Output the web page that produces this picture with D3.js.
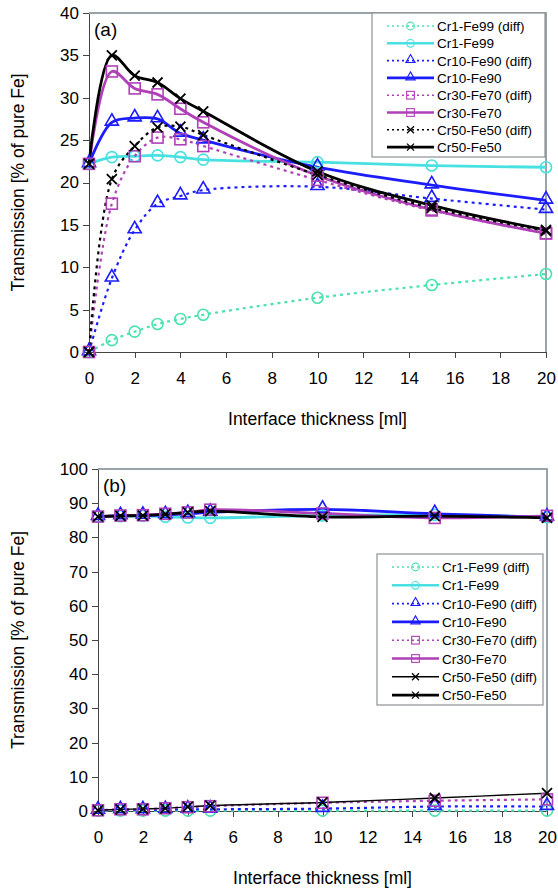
<!DOCTYPE html>
<meta charset="utf-8">
<head>
<style>
body { margin: 0; background: #fff; }
svg { font-family: "Liberation Sans", Arial, sans-serif; }
.axis text { font-size: 17px; fill: #000; }
.axis path, .axis line { stroke: #444; shape-rendering: crispEdges; }
.legend text { font-size: 13.5px; }
</style>
</head>
<body>
<script src="https://d3js.org/d3.v7.min.js"></script>
<script>

// interface thickness [ml]
var xs = [0, 1, 2, 3, 4, 5, 10, 15, 20];

var names = ["Cr1-Fe99 (diff)", "Cr1-Fe99", "Cr10-Fe90 (diff)", "Cr10-Fe90",
             "Cr30-Fe70 (diff)", "Cr30-Fe70", "Cr50-Fe50 (diff)", "Cr50-Fe50"];

// panel (a)
var aCr1diff  = [0, 1.4, 2.4, 3.3, 3.9, 4.4, 6.4, 7.9, 9.2];
var aCr1      = [22.2, 23.0, 23.1, 23.2, 23.0, 22.7, 22.4, 22.0, 21.8];
var aCr10diff = [0, 8.7, 14.4, 17.5, 18.4, 19.1, 19.5, 18.1, 16.8];
var aCr10     = [22.2, 27.1, 27.6, 27.5, 25.8, 25.0, 21.8, 19.7, 17.9];
var aCr30diff = [0, 17.5, 23.1, 25.3, 25.1, 24.3, 20.3, 16.7, 14.0];
var aCr30     = [22.2, 33.1, 31.1, 30.4, 28.7, 27.1, 20.8, 16.8, 14.0];
var aCr50diff = [0, 20.4, 24.3, 26.5, 26.6, 25.6, 20.9, 17.0, 14.3];
var aCr50     = [22.2, 35.0, 32.6, 31.8, 29.9, 28.4, 21.3, 17.3, 14.4];

// panel (b)
var bCr1diff  = [0.1, 0.1, 0.1, 0.1, 0.1, 0.1, 0.1, 0.1, 0.1];
var bCr1      = [86.1, 86.2, 86.3, 86.0, 85.8, 85.7, 86.4, 86.6, 85.9];
var bCr10diff = [0.2, 0.3, 0.3, 0.4, 0.5, 0.5, 0.7, 1.3, 1.3];
var bCr10     = [86.1, 86.3, 86.4, 86.6, 86.9, 87.3, 88.2, 86.9, 85.9];
var bCr30diff = [0.2, 0.5, 0.5, 0.8, 1.1, 1.4, 2.4, 3.0, 3.4];
var bCr30     = [86.1, 86.4, 86.5, 86.9, 87.3, 88.1, 87.0, 85.7, 86.3];
var bCr50diff = [0.2, 0.5, 0.6, 0.8, 1.2, 1.6, 2.5, 3.8, 5.2];
var bCr50     = [86.1, 86.3, 86.4, 86.8, 87.3, 87.7, 86.0, 86.2, 85.7];

var colors  = ["#4ae2ae", "#48e0e0", "#1c1cff", "#1c1cff", "#b040b8", "#b040b8", "#000", "#000"];
var shapes  = ["circle", "circle", "triangle", "triangle", "square", "square", "x", "x"];

var svg = d3.select("body").append("svg")
    .attr("width", 558)
    .attr("height", 890);

function marker(g, shape, cx, cy, color) {
  var p;
  if (shape == "circle") {
    g.append("circle").attr("cx", cx).attr("cy", cy).attr("r", 5.5)
      .attr("fill", "none").attr("stroke", color).attr("stroke-width", 1.6);
  } else if (shape == "triangle") {
    p = d3.symbol().type(d3.symbolTriangle).size(75);
    g.append("path").attr("d", p()).attr("transform", "translate(" + cx + "," + (cy - 1) + ")")
      .attr("fill", "none").attr("stroke", color).attr("stroke-width", 1.6);
  } else if (shape == "square") {
    g.append("rect").attr("x", cx - 5.5).attr("y", cy - 5.5).attr("width", 11).attr("height", 11)
      .attr("fill", "none").attr("stroke", color).attr("stroke-width", 1.6);
  } else {
    g.append("path").attr("d", "M-5,-5L5,5M-5,5L5,-5")
      .attr("transform", "translate(" + cx + "," + cy + ")")
      .attr("fill", "none").attr("stroke", color).attr("stroke-width", 1.8);
  }
}

function panel(opt) {
  var x = d3.scaleLinear().domain([0, 20]).range([opt.left, opt.right]);
  var y = d3.scaleLinear().domain([0, opt.ymax]).range([opt.bottom, opt.top]);

  // frame top / right
  svg.append("path")
    .attr("d", "M" + opt.left + "," + opt.top + "H" + opt.right + "V" + opt.bottom)
    .attr("fill", "none").attr("stroke", "#9aa4a8").attr("stroke-width", 2);

  svg.append("g").attr("class", "axis")
    .attr("transform", "translate(0," + opt.bottom + ")")
    .call(d3.axisBottom(x).tickValues(d3.range(0, 21, 2)).tickSize(6).tickSizeOuter(0).tickPadding(14))
    .call(function (g) { g.select(".domain").attr("stroke-width", 1.5); });

  svg.append("g").attr("class", "axis")
    .attr("transform", "translate(" + opt.left + ",0)")
    .call(d3.axisLeft(y).tickValues(d3.range(0, opt.ymax + 1, opt.step)).tickSize(6).tickSizeOuter(0).tickPadding(4))
    .call(function (g) { g.select(".domain").attr("stroke-width", 1.5); });

  svg.append("text").attr("x", (opt.left + opt.right) / 2).attr("y", opt.bottom + 73)
    .attr("text-anchor", "middle").style("font-size", "17.5px").text("Interface thickness [ml]");

  svg.append("text")
    .attr("transform", "translate(24," + ((opt.top + opt.bottom) / 2) + ") rotate(-90)")
    .attr("text-anchor", "middle").style("font-size", "17.5px").text("Transmission [% of pure Fe]");

  svg.append("text").attr("x", opt.left + 5).attr("y", opt.top + 23)
    .style("font-size", "19px").text(opt.tag);

  var line = d3.line()
    .x(function (d, i) { return x(xs[i]); })
    .y(function (d) { return y(d); })
    .curve(d3.curveCatmullRom.alpha(0.5));

  opt.series.forEach(function (s, k) {
    var diff = k % 2 == 0;
    var dashed = diff && !(opt.solidBlackDiff && k == 6);
    svg.append("path").datum(s)
      .attr("d", line)
      .attr("fill", "none")
      .attr("stroke", colors[k])
      .attr("stroke-width", diff ? (dashed ? 2.2 : 1.4) : 2.8)
      .attr("stroke-dasharray", dashed ? "3,4" : null);
  });
  opt.series.forEach(function (s, k) {
    var g = svg.append("g");
    s.forEach(function (v, i) { marker(g, shapes[k], x(xs[i]), y(v), colors[k]); });
  });

  // legend
  var lg = svg.append("g").attr("class", "legend");
  lg.append("rect").attr("x", opt.lx).attr("y", opt.ly).attr("width", opt.lw).attr("height", opt.lh)
    .attr("fill", "#fff").attr("stroke", "#8a9295").attr("stroke-width", 1.2);
  names.forEach(function (n, k) {
    var yy = opt.ly + 13 + k * opt.lstep;
    var diff = k % 2 == 0;
    var dashed = diff && !(opt.solidBlackDiff && k == 6);
    lg.append("line").attr("x1", opt.lx + 15).attr("x2", opt.lx + 62).attr("y1", yy).attr("y2", yy)
      .attr("stroke", colors[k])
      .attr("stroke-width", diff ? (dashed ? 1.6 : 1.4) : 2.6)
      .attr("stroke-dasharray", dashed ? "2,3" : null);
    var mg = lg.append("g").attr("transform", "translate(" + (opt.lx + 38.5) + "," + yy + ") scale(0.7)");
    marker(mg, shapes[k], 0, 0, colors[k]);
    lg.append("text").attr("x", opt.lx + 65).attr("y", yy + 5).text(n);
  });
}

panel({
  top: 13, bottom: 352, left: 89, right: 546, ymax: 40, step: 5, tag: "(a)",
  series: [aCr1diff, aCr1, aCr10diff, aCr10, aCr30diff, aCr30, aCr50diff, aCr50],
  lx: 372, ly: 13, lw: 173, lh: 144, lstep: 17.3, solidBlackDiff: false
});

panel({
  top: 469, bottom: 811, left: 98, right: 547, ymax: 100, step: 10, tag: "(b)",
  series: [bCr1diff, bCr1, bCr10diff, bCr10, bCr30diff, bCr30, bCr50diff, bCr50],
  lx: 377, ly: 554, lw: 166, lh: 151, lstep: 18.3, solidBlackDiff: true
});

</script>
</body>
